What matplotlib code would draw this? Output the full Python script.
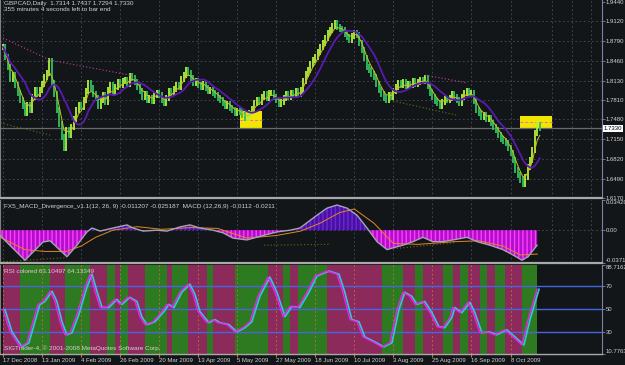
import numpy as np
import pandas as pd
import matplotlib
matplotlib.use('Agg')
import matplotlib.pyplot as plt
from matplotlib.patches import Rectangle

plt.rcParams['font.family'] = ['Liberation Sans', 'DejaVu Sans']

# daily closes, GBPCAD, 17 Dec 2008 .. mid Oct 2009
closes = [
    1.869, 1.852, 1.836, 1.815, 1.822, 1.805, 1.792, 1.781, 1.770, 1.759,
    1.772, 1.764, 1.785, 1.797, 1.790, 1.797, 1.808, 1.819, 1.826, 1.845,
    1.809, 1.790, 1.764, 1.741, 1.719, 1.700, 1.730, 1.722, 1.735, 1.748,
    1.764, 1.772, 1.768, 1.780, 1.795, 1.809, 1.800, 1.790, 1.784, 1.771,
    1.780, 1.788, 1.777, 1.797, 1.805, 1.793, 1.802, 1.810, 1.806, 1.812,
    1.814, 1.808, 1.820, 1.817, 1.811, 1.802, 1.795, 1.786, 1.790, 1.780,
    1.784, 1.778, 1.789, 1.792, 1.788, 1.781, 1.776, 1.784, 1.795, 1.792,
    1.799, 1.806, 1.802, 1.815, 1.822, 1.830, 1.826, 1.818, 1.809, 1.812,
    1.806, 1.802, 1.808, 1.800, 1.795, 1.797, 1.792, 1.788, 1.784, 1.780,
    1.776, 1.771, 1.774, 1.767, 1.764, 1.758, 1.762, 1.760, 1.755, 1.750,
    1.752, 1.758, 1.766, 1.775, 1.780, 1.777, 1.786, 1.790, 1.784, 1.792,
    1.792, 1.786, 1.780, 1.774, 1.777, 1.783, 1.790, 1.786, 1.792, 1.788,
    1.795, 1.791, 1.797, 1.812, 1.824, 1.831, 1.840, 1.848, 1.852, 1.861,
    1.869, 1.875, 1.884, 1.892, 1.898, 1.904, 1.909, 1.903, 1.899, 1.897,
    1.890, 1.885, 1.881, 1.888, 1.893, 1.889, 1.876, 1.864, 1.850, 1.836,
    1.830, 1.824, 1.819, 1.808, 1.797, 1.790, 1.784, 1.780, 1.789, 1.786,
    1.795, 1.802, 1.809, 1.806, 1.810, 1.803, 1.807, 1.805, 1.812, 1.808,
    1.810, 1.814, 1.812, 1.817, 1.803, 1.792, 1.785, 1.779, 1.775, 1.771,
    1.777, 1.782, 1.780, 1.784, 1.790, 1.786, 1.781, 1.775, 1.786, 1.792,
    1.795, 1.790, 1.792, 1.778, 1.764, 1.758, 1.752, 1.755, 1.748, 1.750,
    1.742, 1.735, 1.730, 1.722, 1.716, 1.712, 1.709, 1.700, 1.692, 1.680,
    1.664, 1.655, 1.647, 1.640, 1.652, 1.668, 1.680, 1.697, 1.725, 1.739, 1.733,
]

# MACD main line (bar index, value)
macd_x = [-1.2, 9.0, 16.4, 19.3, 26.2, 30.3, 34.4, 36.5, 39.8, 45.1, 50.8, 53.3, 57.4,
          63.1, 67.2, 72.5, 76.6, 80.7, 86.1, 90.2, 94.3, 100.0, 106.6, 112.3, 117.6,
          121.7, 128.7, 132.8, 136.9, 141.0, 145.1, 149.2, 153.3, 157.4, 159.8, 163.9,
          168.0, 172.1, 176.2, 180.3, 184.4, 190.2, 194.3, 199.6, 204.9, 209.0, 212.7,
          215.2, 218.9]
macd_v = [-0.006, -0.034, -0.0134, -0.012, -0.030, -0.017, -0.002, 0.0025, -0.001, 0.0025,
          0.006, 0.0025, -0.001, 0.0, -0.001, 0.0037, 0.006, 0.0025, 0.0, -0.003, -0.009,
          -0.011, -0.006, -0.002, 0.0, 0.0025, 0.017, 0.025, 0.0285, 0.025, 0.017, 0.0025,
          -0.013, -0.022, -0.020, -0.017, -0.013, -0.008, -0.013, -0.013, -0.011, -0.008,
          -0.013, -0.017, -0.022, -0.028, -0.034, -0.030, -0.017]
# MACD signal line
sig_x = [-1.2, 9, 17, 26, 32, 38, 45, 55, 65, 77, 88, 100, 112, 122, 130, 138, 144,
         152, 160, 170, 185, 195, 205, 212, 219]
sig_v = [-0.008, -0.022, -0.024, -0.024, -0.018, -0.008, 0.0, 0.004, 0.001, 0.003, 0.002,
         -0.009, -0.006, -0.001, 0.008, 0.020, 0.024, 0.008, -0.015, -0.016, -0.013,
         -0.012, -0.018, -0.028, -0.027]

# RSI line (bar index, value)
rsi_x = [0, 2.9, 7.0, 9.8, 12.3, 14.3, 16.4, 19.3, 21.3, 23.4, 25.4, 27.5, 30.3, 33.6,
         35.7, 37.7, 39.8, 42.6, 45.9, 48.0, 51.2, 54.1, 56.1, 58.2, 61.5, 65.2, 67.2,
         69.3, 72.5, 75.8, 77.9, 79.9, 83.6, 86.1, 88.1, 91.8, 95.1, 98.4, 101.2, 104.5,
         108.6, 111.5, 114.8, 117.6, 120.9, 124.6, 127.9, 132.8, 136.9, 139.3, 142.2,
         145.1, 147.5, 151.6, 155.3, 158.6, 161.5, 163.9, 166.8, 168.9, 172.1, 175.0,
         177.9, 180.3, 183.2, 184.4, 187.3, 190.6, 192.6, 195.5, 198.4, 201.6, 205.7,
         209.0, 212.7, 215.2, 218.9]
rsi_v = [49.7, 30.2, 17, 20.5, 39, 54, 56.8, 65.7, 56.8, 39, 27.6, 29.4, 45.3, 69.2,
         80.7, 65.7, 51.5, 51.5, 58.6, 54.2, 60.4, 56.8, 43.5, 36.5, 39, 48, 54.2,
         51.5, 64.8, 71.9, 63, 48, 38.2, 40.9, 38.2, 36.5, 30.2, 33.8, 39, 61.3,
         78.1, 64.8, 43.5, 52.4, 51.5, 64.8, 79, 83.4, 80.7, 64.8, 40.9,
         39, 25.8, 21.4, 17, 20.5, 49.7, 64.8, 61.3, 54.2, 56.8, 47,
         34.7, 33.8, 42.7, 51.5, 47, 56, 47, 29.4, 30.2, 27.6, 32,
         25.8, 18.7, 40.9, 67.5]

date_labels = ['17 Dec 2008', '13 Jan 2009', '4 Feb 2009', '26 Feb 2009', '20 Mar 2009',
               '13 Apr 2009', '5 May 2009', '27 May 2009', '18 Jun 2009', '10 Jul 2009',
               '3 Aug 2009', '25 Aug 2009', '16 Sep 2009', '8 Oct 2009']
date_pos = [0, 16, 32, 48, 64, 80, 96, 112, 128, 144, 160, 176, 192, 208]

price_ticks = [1.9440, 1.9120, 1.8790, 1.8460, 1.8130, 1.7810, 1.7480, 1.7150, 1.6820, 1.6490, 1.6170]
macd_ticks = [0.034200, 0.0, -0.037131]
macd_tick_labels = ['0.034200', '0.00', '-0.037131']
rsi_ticks = [88.7162, 70, 50, 30, 10.7763]
rsi_tick_labels = ['88.7162', '70', '50', '30', '10.7763']

# highlight boxes (bar index from, to, price low, high)
boxes = [(97.1, 106.1, 1.732, 1.762), (211.9, 225.0, 1.732, 1.754)]
# divergence trend lines
pink_lines = [((0, 1.884), (19.3, 1.847)), ((19.3, 1.847), (52, 1.822)), ((173, 1.822), (190.2, 1.809))]
olive_lines = [((-1, 1.742), (19.3, 1.722)), ((158.6, 1.780), (186.1, 1.755))]
macd_olive = [((-1.2, -0.036), (26.2, -0.031)), ((107, -0.017), (134, -0.016)),
              ((160, -0.021), (185, -0.014))]

bg = '#131619'
txt = '#d0d0d0'
grid_c = '#474d5e'
fs = 4.6
tfs = 4.3
xlim = (-1.23, 245.5)

s = pd.Series(closes)
n = len(s)
idx = np.arange(n)
prev = s.shift(1).fillna(s.iloc[0])
ma_slow = s.rolling(10, min_periods=1).mean()
ma_fast = s.ewm(span=4).mean()

fig = plt.figure(figsize=(6.25, 3.65), dpi=100)
fig.patch.set_facecolor(bg)


def box(x0, y0, x1, y1):
    return [x0 / 625, 1 - y1 / 365, (x1 - x0) / 625, (y1 - y0) / 365]


ax1 = fig.add_axes(box(0, 0, 602, 198))
ax2 = fig.add_axes(box(0, 200, 602, 263))
ax3 = fig.add_axes(box(0, 265, 602, 354))

grid_x = date_pos + [225, 233, 241]
for ax in (ax1, ax2, ax3):
    ax.set_facecolor(bg)
    ax.set_xlim(*xlim)
    for sp in ax.spines.values():
        sp.set_visible(False)
    ax.spines['right'].set_visible(True)
    ax.spines['right'].set_color('#7a84a0')
    ax.spines['left'].set_visible(True)
    ax.spines['left'].set_color('#808080')
    ax.spines['bottom'].set_visible(True)
    ax.spines['bottom'].set_color('#a8a8a8')
    ax.spines['bottom'].set_linewidth(1.6)
    ax.yaxis.tick_right()
    ax.tick_params(axis='y', colors='#7a84a0', labelcolor=txt, labelsize=tfs,
                   length=2, pad=0.8, width=0.6)
    ax.tick_params(axis='x', bottom=False, labelbottom=False)

# ---- main price panel ----
ax1.set_ylim(1.6170, 1.9473)
for p in price_ticks[1:-1]:
    ax1.axhline(p, color=grid_c, lw=0.6, ls=(0, (2, 3)), zorder=0)
for gx in grid_x:
    ax1.axvline(gx, color=grid_c, lw=0.6, ls=(0, (2, 3)), zorder=0)

for b in boxes:
    ax1.add_patch(Rectangle((b[0], b[2]), b[1] - b[0], b[3] - b[2],
                            facecolor='#f2e600', edgecolor='none', zorder=1))
    ax1.plot([b[0], b[1]], [(b[2] + b[3]) / 2] * 2, color='#e070c0', lw=0.7,
             ls=(0, (3, 2)), zorder=1.5)

ax1.axhline(closes[-1], color='#6a6a6a', lw=0.9, zorder=1)

lo = np.minimum(prev, s) - 0.005
hi = np.maximum(prev, s) + 0.005
up = s >= prev
ax1.vlines(idx[up], lo[up], hi[up], color='#b4f03c', lw=1.3, zorder=2)
ax1.vlines(idx[~up], lo[~up], hi[~up], color='#2fc060', lw=1.3, zorder=2)
ax1.plot(idx, ma_fast, color='#c8c020', lw=0.7, zorder=3)
ax1.plot(idx, ma_slow, color='#5a1ab0', lw=1.3, zorder=3)
for (x0, y0), (x1, y1) in pink_lines:
    ax1.plot([x0, x1], [y0, y1], color='#c0409a', lw=0.8, ls=(0, (1, 2)), zorder=3)
for (x0, y0), (x1, y1) in olive_lines:
    ax1.plot([x0, x1], [y0, y1], color='#6e6a10', lw=0.8, ls=(0, (1, 2)), zorder=3)

ax1.set_yticks(price_ticks)
ax1.set_yticklabels([f'{p:.4f}' for p in price_ticks])
ax1.text(1.003, closes[-1], f'{closes[-1]:.4f}', transform=ax1.get_yaxis_transform(),
         fontsize=tfs, color='black', va='center', ha='left',
         bbox=dict(boxstyle='square,pad=0.15', fc='white', ec='none'))
ax1.text(0.006, 0.995, 'GBPCAD,Daily  1.7314 1.7437 1.7294 1.7330\n355 minutes 4 seconds left to bar end',
         transform=ax1.transAxes, fontsize=fs, color=txt, va='top', ha='left', linespacing=1.15)

# ---- MACD panel ----
ax2.set_ylim(-0.037131, 0.034200)
ax2.axhline(0, color=grid_c, lw=0.6, ls=(0, (2, 3)), zorder=0)
for gx in grid_x:
    ax2.axvline(gx, color=grid_c, lw=0.6, ls=(0, (2, 3)), zorder=0)
mx = np.array(macd_x)
mv = np.array(macd_v)
ax2.fill_between(mx, mv, 0, where=mv >= 0, interpolate=True, facecolor='#4a10a4',
                 edgecolor='#6a2ad0', hatch='||||', lw=0, zorder=1)
ax2.fill_between(mx, mv, 0, where=mv <= 0, interpolate=True, facecolor='#b010c8',
                 edgecolor='#ff3cff', hatch='||||', lw=0, zorder=1)
for (x0, y0), (x1, y1) in macd_olive:
    ax2.plot([x0, x1], [y0, y1], color='#6e6a10', lw=0.8, ls=(0, (1, 2)), zorder=2)
ax2.plot(sig_x, sig_v, color='#e08a20', lw=0.7, zorder=3)
ax2.plot(mx, mv, color='#a4a4b4', lw=1.0, zorder=4)
ax2.set_yticks(macd_ticks)
ax2.set_yticklabels(macd_tick_labels)
lbls = ax2.get_yticklabels()
lbls[0].set_va('top')
lbls[-1].set_va('bottom')
ax2.text(0.006, 0.93, 'FX5_MACD_Divergence_v1.1(12, 26, 9) -0.011207 -0.025187  MACD (12,26,9) -0.0112 -0.0211',
         transform=ax2.transAxes, fontsize=fs, color=txt, va='top', ha='left')

# ---- RSI panel ----
ax3.set_ylim(10.7763, 88.7162)
rx = np.array(rsi_x)
rv = np.array(rsi_v)
seg_w = np.diff(rx)
seg_c = np.where(np.diff(rv) > 0, '#2e7a20', '#8c2a5c')
ax3.bar(rx[:-1], 88.7162 - 10.7763, bottom=10.7763, width=seg_w, align='edge',
        color=seg_c, lw=0, zorder=0)
for gx in date_pos:
    ax3.axvline(gx, color='#d07038', lw=0.6, ls=(0, (2, 3)), zorder=1)
for lvl in (30, 50, 70):
    ax3.axhline(lvl, color='#4666e0', lw=1.0, zorder=2)
ax3.plot(rx + 0.8, rv, color='#30c8d8', lw=1.2, zorder=3)
ax3.plot(rx, rv, color='#f020f0', lw=1.0, zorder=4)
ax3.set_yticks(rsi_ticks)
ax3.set_yticklabels(rsi_tick_labels)
lbls = ax3.get_yticklabels()
lbls[0].set_va('top')
lbls[-1].set_va('bottom')
ax3.spines['bottom'].set_linewidth(1.0)
ax3.text(0.006, 0.96, 'RSI colored 63.10497 64.13349', transform=ax3.transAxes,
         fontsize=fs, color='#e0c8d8', va='top', ha='left')
ax3.text(0.006, 0.03, 'SIGTrader-4, \u00a9 2001-2008 MetaQuotes Software Corp.',
         transform=ax3.transAxes, fontsize=fs, color='#d8d0d8', va='bottom', ha='left')

ax3.set_xticks(date_pos)
ax3.set_xticklabels(date_labels)
ax3.tick_params(axis='x', bottom=True, labelbottom=True, colors='#d07038', labelcolor=txt,
                labelsize=tfs, length=2, pad=1.2)
for lb in ax3.get_xticklabels():
    lb.set_ha('left')

fig.savefig('out.png', dpi=100, facecolor=bg)
